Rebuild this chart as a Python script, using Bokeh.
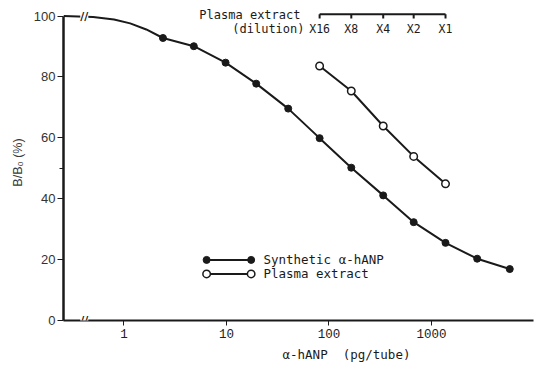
import math
from bokeh.plotting import figure
from bokeh.models import Range1d, FixedTicker, Label, Title
from bokeh.core.properties import value
from bokeh.embed import file_html
from bokeh.resources import INLINE

# ---------------- data ----------------
synthetic_x = [2.4, 4.8, 9.8, 19.5, 40, 81, 165, 338, 670, 1370, 2790, 5800]
synthetic_y = [92.8, 90.1, 84.7, 77.8, 69.6, 59.9, 50.2, 41.1, 32.3, 25.5, 20.3, 16.9]

# drawn standard curve, leading part before the first point (B/B0 = 100 at zero dose)
curve_lead_x = [0.257, 0.5, 0.8, 1.15, 1.65]
curve_lead_y = [100, 99.7, 98.9, 97.6, 95.6]

plasma_x = [81, 165, 338, 670, 1370]
plasma_y = [83.6, 75.4, 63.9, 53.9, 44.9]
dilution_labels = ["X16", "X8", "X4", "X2", "X1"]

x_ticks = [1, 10, 100, 1000]
y_ticks = [0, 20, 40, 60, 80, 100]
y_minor = [50]

# ---------------- layout / style constants ----------------
X_START, X_END = 0.257, 9886
Y_END = 103.8
BREAK_X = 0.41
INK = "#1a1a1a"
MONO = "DejaVu Sans Mono"

p = figure(width=541, height=366, x_axis_type="log",
           x_range=Range1d(X_START, X_END), y_range=Range1d(0, Y_END),
           output_backend="svg", toolbar_location=None,
           min_border_left=63, min_border_right=8, min_border_top=4, min_border_bottom=46)
p.outline_line_color = None
p.grid.visible = False
p.background_fill_color = "white"
p.border_fill_color = "white"

# y axis
ya = p.yaxis[0]
ya.ticker = FixedTicker(ticks=y_ticks, minor_ticks=y_minor)
ya.bounds = (0, 100)
ya.axis_line_width = 2.5
ya.axis_line_color = INK
ya.major_tick_out = 6
ya.major_tick_in = 0
ya.minor_tick_out = 4
ya.minor_tick_in = 0
ya.major_tick_line_color = INK
ya.minor_tick_line_color = INK
ya.major_label_text_font = "Liberation Sans"
ya.major_label_text_font_size = "13px"
ya.major_label_text_color = "#333333"
ya.major_label_standoff = 2
ya.axis_label = "B/B₀ (%)"
ya.axis_label_text_font = "Liberation Sans"
ya.axis_label_text_font_size = "12.5px"
ya.axis_label_text_font_style = "normal"
ya.axis_label_text_color = "#3a3a3a"
ya.axis_label_standoff = 6

# x axis
xa = p.xaxis[0]
xa.ticker = FixedTicker(ticks=x_ticks, minor_ticks=[])
xa.major_label_overrides = {t: str(t) for t in x_ticks}
xa.axis_line_width = 2
xa.axis_line_color = INK
xa.major_tick_out = 5
xa.major_tick_in = 0
xa.major_tick_line_color = INK
xa.major_label_text_font = "Liberation Mono"
xa.major_label_text_font_size = "12.5px"
xa.major_label_text_color = "#222222"
xa.major_label_standoff = 3

# x axis title, placed as a title below the axis
p.add_layout(Title(text="α-hANP\u00a0 (pg/tube)", align="left", offset=219, standoff=9,
                   text_font=MONO, text_font_size="12.5px", text_font_style="normal",
                   text_color=INK), "below")

# standard curve
curve_x = curve_lead_x + synthetic_x
curve_y = curve_lead_y + synthetic_y
p.line(curve_x, curve_y, line_color=INK, line_width=2)
p.scatter(synthetic_x, synthetic_y, size=7, fill_color=INK, line_color=INK)

# plasma extract dilution line
p.line(plasma_x, plasma_y, line_color=INK, line_width=2)
p.scatter(plasma_x, plasma_y, size=7.5, fill_color="white", line_color=INK, line_width=1.5)

# top dilution scale
TOP_Y = 100.6
p.segment(x0=[plasma_x[0]], y0=[TOP_Y], x1=[plasma_x[-1]], y1=[TOP_Y], line_color=INK, line_width=2)
p.segment(x0=plasma_x, y0=[TOP_Y] * len(plasma_x), x1=plasma_x, y1=[TOP_Y - 1.4] * len(plasma_x),
          line_color=INK, line_width=2)
p.text(x=plasma_x, y=[95.6] * len(plasma_x), text=dilution_labels, text_align="center",
       text_baseline="middle", text_font=value(MONO), text_font_size="11.5px", text_color=INK)
p.add_layout(Label(x=52.7, y=100.2, text="Plasma extract", text_align="right", text_baseline="middle",
                   text_font=MONO, text_font_size="12px", text_color=INK))
p.add_layout(Label(x=57.7, y=95.6, text="(dilution)", text_align="right", text_baseline="middle",
                   text_font=MONO, text_font_size="12px", text_color=INK))

# legend (drawn)
LEG_X0, LEG_X1, LEG_TX = 6.4, 17.4, 22.9
LEG_Y1, LEG_Y2 = 19.9, 15.3
p.line([LEG_X0, LEG_X1], [LEG_Y1, LEG_Y1], line_color=INK, line_width=2)
p.scatter([LEG_X0, LEG_X1], [LEG_Y1, LEG_Y1], size=7, fill_color=INK, line_color=INK)
p.line([LEG_X0, LEG_X1], [LEG_Y2, LEG_Y2], line_color=INK, line_width=2)
p.scatter([LEG_X0, LEG_X1], [LEG_Y2, LEG_Y2], size=7.5, fill_color="white", line_color=INK, line_width=1.5)
p.add_layout(Label(x=LEG_TX, y=LEG_Y1, text="Synthetic α-hANP", text_baseline="middle",
                   text_font=MONO, text_font_size="12.5px", text_color=INK))
p.add_layout(Label(x=LEG_TX, y=LEG_Y2, text="Plasma extract", text_baseline="middle",
                   text_font=MONO, text_font_size="12.5px", text_color=INK))

# axis breaks
for by in (0, 100):
    p.add_layout(Label(x=BREAK_X, y=by, text="//", text_align="center", text_baseline="middle",
                       text_font="DejaVu Sans", text_font_size="11px", text_font_style="bold",
                       text_color=INK, background_fill_color="white"))

open("out.html", "w").write(file_html(p, INLINE))
